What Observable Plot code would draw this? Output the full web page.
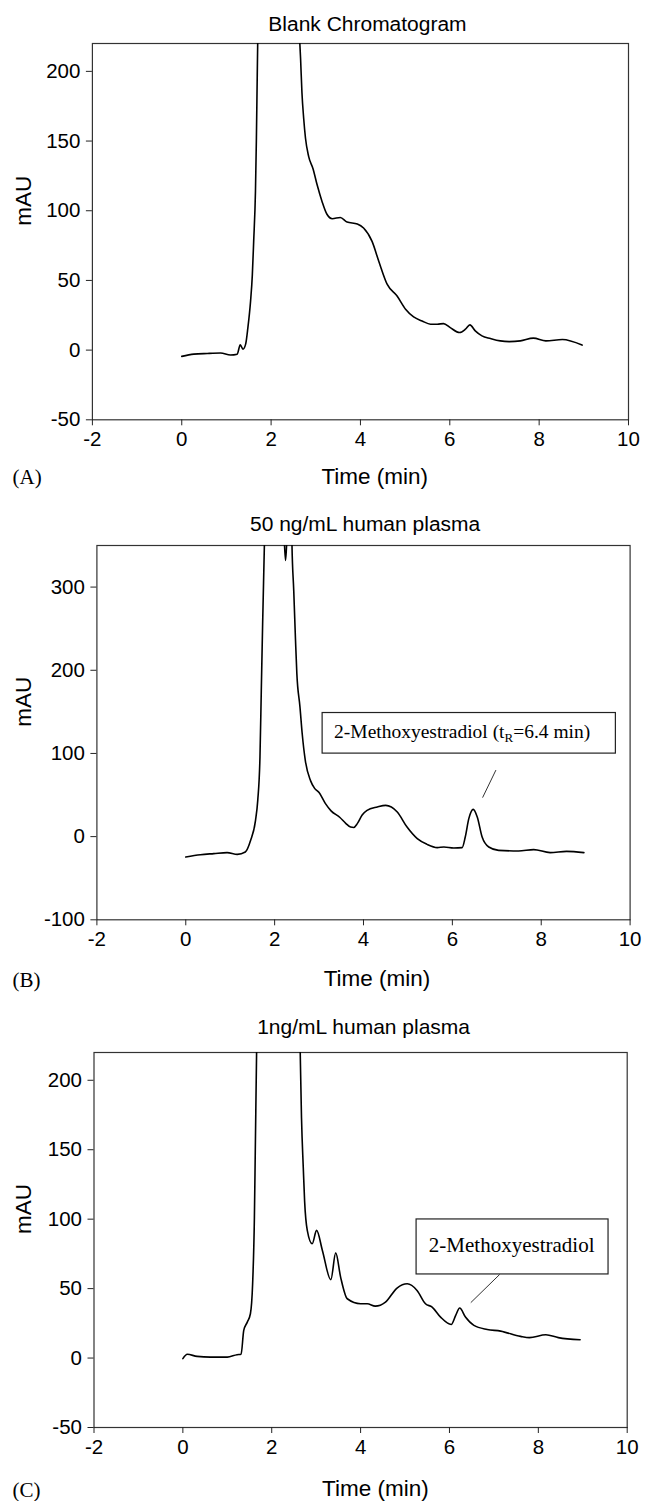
<!DOCTYPE html>
<html><head><meta charset="utf-8">
<script src="https://cdn.jsdelivr.net/npm/d3@7"></script>
<script src="https://cdn.jsdelivr.net/npm/@observablehq/plot@0.6"></script>
<style>
html,body{margin:0;padding:0;background:#fff;overflow:hidden;}
#root{position:relative;width:645px;height:1501px;}
.panel{position:absolute;left:0;}
</style></head><body><div id="root"></div>
<script>
// ---------- data ----------
const xTicks = [-2, 0, 2, 4, 6, 8, 10];
const blankTicks = [-50, 0, 50, 100, 150, 200];
const plasma50Ticks = [-100, 0, 100, 200, 300];
const plasma1Ticks = [-50, 0, 50, 100, 150, 200];
const titles = ["Blank Chromatogram", "50 ng/mL human plasma", "1ng/mL human plasma"];
const letters = ["(A)", "(B)", "(C)"];
const xLabel = "Time (min)";
const yLabel = "mAU";

const blankTime = [0, 0.27, 0.57, 0.87, 1.09, 1.24, 1.31, 1.37, 1.43, 1.48, 1.54, 1.58, 1.61, 1.65, 1.67, 1.69, 2.15, 2.64, 2.66, 2.69, 2.73, 2.77, 2.84, 2.94, 3.03, 3.14, 3.25, 3.37, 3.55, 3.70, 3.93, 4.07, 4.26, 4.41, 4.60, 4.82, 5.01, 5.19, 5.38, 5.57, 5.72, 5.86, 6.01, 6.22, 6.35, 6.45, 6.57, 6.72, 6.91, 7.13, 7.33, 7.58, 7.87, 8.15, 8.52, 8.96];
const blankMAU = [-4.5, -2.9, -2.4, -2.1, -3.5, -2.9, 3.8, 0.7, 4.3, 16, 35, 54, 78, 114, 150, 197, 900, 222, 209, 185, 166, 152, 139, 130, 118.6, 106.7, 97.5, 94.3, 95.2, 91.9, 90.5, 87.6, 78, 63.8, 47.1, 38.8, 29.3, 23.8, 20.9, 18.6, 18.6, 19, 16.1, 12.6, 15, 18.1, 13.8, 10.2, 8.3, 6.6, 6.1, 6.6, 8.6, 6.6, 7.6, 3.6];

const plasma50Time = [0, 0.33, 0.63, 0.93, 1.16, 1.34, 1.46, 1.57, 1.62, 1.67, 1.70, 1.73, 1.77, 2.0, 2.215, 2.245, 2.275, 2.33, 2.39, 2.43, 2.47, 2.50, 2.57, 2.62, 2.69, 2.81, 2.90, 3.00, 3.14, 3.27, 3.47, 3.60, 3.71, 3.78, 3.86, 3.97, 4.08, 4.31, 4.50, 4.76, 4.98, 5.21, 5.43, 5.66, 5.81, 6.03, 6.22, 6.29, 6.37, 6.47, 6.56, 6.67, 6.82, 7.04, 7.49, 7.83, 8.20, 8.57, 8.96];
const plasma50MAU = [-24.5, -21.7, -20.4, -19.2, -21.3, -18.5, -4.4, 19.6, 43.6, 95.7, 176, 256, 352, 1100, 360, 332, 360, 900, 352, 296, 236, 196, 156, 124, 91.7, 67, 58, 53, 40, 31, 23, 16, 11.5, 11, 15.6, 26, 31.6, 35.6, 37.6, 29.6, 11.5, -2.4, -9.3, -13.2, -12.5, -13.7, -13.2, -0.5, 21.6, 32.8, 23.6, -0.5, -12.5, -16.5, -17.3, -15.6, -19.2, -17.7, -19.2];

const plasma1Time = [0, 0.10, 0.32, 0.62, 1.0, 1.22, 1.31, 1.37, 1.45, 1.52, 1.57, 1.61, 1.63, 1.66, 2.15, 2.64, 2.67, 2.71, 2.74, 2.80, 2.91, 3.01, 3.14, 3.33, 3.44, 3.55, 3.70, 4.0, 4.15, 4.33, 4.56, 4.82, 5.05, 5.27, 5.46, 5.61, 5.80, 6.04, 6.14, 6.23, 6.36, 6.55, 6.85, 7.15, 7.60, 7.80, 8.17, 8.45, 8.94];
const plasma1MAU = [-0.4, 2.7, 1.2, 0.7, 0.7, 2.4, 2.7, 19.9, 25.9, 31.9, 53.5, 101.4, 149.4, 222, 900, 222, 173, 137, 113, 91.9, 82.3, 91.9, 77.5, 56.4, 75.7, 58.3, 42.7, 39.1, 39.1, 37.4, 40.3, 50.4, 53.5, 48.7, 39.1, 36.7, 29.5, 24.2, 30.7, 36, 29.5, 23.5, 20.6, 19.4, 15.6, 14.7, 16.8, 14.7, 13.2];

// annotations (data units)
const annotation50 = {label: "2-Methoxyestradiol (tR=6.4 min)", x1: 3.08, x2: 9.68, y1: 99.8, y2: 148.6, tx: 6.22, ty: 125.7, lx1: 6.98, ly1: 80, lx2: 6.68, ly2: 46.9};
const annotation1 = {label: "2-Methoxyestradiol", x1: 5.26, x2: 9.58, y1: 60.2, y2: 99.8, tx: 7.40, ty: 81.5, lx1: 7.13, ly1: 60.2, lx2: 6.48, ly2: 39.9};

// ---------- layout ----------
const SANS = "'Liberation Sans', Arial, Helvetica, sans-serif";
const SERIF = "'Liberation Serif', 'Times New Roman', serif";
const panels = [
  {time: blankTime, values: blankMAU, ticks: blankTicks, domain: [-50, 220], title: titles[0], letter: letters[0],
   top: 42.7, bottom: 419, left: 91.9, right: 628, mb: 75, titleDx: 7, titleDy: -19.4, xlDx: 14.3, xlDy: 57, letDy: 57, ann: null},
  {time: plasma50Time, values: plasma50MAU, ticks: plasma50Ticks, domain: [-100, 350], title: titles[1], letter: letters[1],
   top: 545, bottom: 919.3, left: 96.4, right: 629.6, mb: 75, titleDx: 1.6, titleDy: -21.7, xlDx: 13.5, xlDy: 58.7, letDy: 60.7, ann: annotation50, annSize: 19.5},
  {time: plasma1Time, values: plasma1MAU, ticks: plasma1Ticks, domain: [-50, 220], title: titles[2], letter: letters[2],
   top: 1052.3, bottom: 1427.3, left: 93.5, right: 626.7, mb: 72, titleDx: 3, titleDy: -25.6, xlDx: 14.8, xlDy: 61.7, letDy: 62.7, ann: annotation1, annSize: 21}
];

const root = document.getElementById("root");
const MT = 40;
for (const p of panels) {
  const data = p.time.map((t, i) => ({t, v: p.values[i]}));
  const h = MT + (p.bottom - p.top) + p.mb;
  const marks = [
    Plot.frame({stroke: "#333", strokeWidth: 1.2}),
    Plot.axisX({ticks: xTicks, tickSize: 6, tickPadding: 6, tickFormat: d => String(d), label: null, fontSize: 20.5, stroke: "#222", fill: "#000"}),
    Plot.axisY({ticks: p.ticks, tickSize: 6, tickPadding: 6, tickFormat: d => String(d), label: null, fontSize: 20.5, stroke: "#222", fill: "#000"}),
    Plot.line(data, {x: "t", y: "v", stroke: "#000", strokeWidth: 1.6, curve: "monotone-x", clip: true, strokeLinejoin: "round"}),
    Plot.text([p.title], {text: d => d, frameAnchor: "top", dx: p.titleDx, dy: p.titleDy, lineAnchor: "middle", fontSize: 21, fill: "#000"}),
    Plot.text([xLabel], {text: d => d, frameAnchor: "bottom", dx: p.xlDx, dy: p.xlDy, lineAnchor: "middle", fontSize: 22.5, fill: "#000"}),
    Plot.text([yLabel], {text: d => d, frameAnchor: "left", rotate: -90, dx: 23.6 - p.left, dy: -6, lineAnchor: "middle", fontSize: 22.5, fill: "#000"}),
    Plot.text([p.letter], {text: d => d, frameAnchor: "bottom-left", textAnchor: "start", dx: 12 - p.left, dy: p.letDy, lineAnchor: "middle", fontSize: 21, fontFamily: SERIF, fill: "#000"})
  ];
  if (p.ann) {
    const a = p.ann;
    marks.push(
      Plot.link([a], {x1: "lx1", y1: "ly1", x2: "lx2", y2: "ly2", stroke: "#333", strokeWidth: 1}),
      Plot.rect([a], {x1: "x1", x2: "x2", y1: "y1", y2: "y2", fill: "white", stroke: "#222", strokeWidth: 1.2}),
      Plot.text([a], {x: "tx", y: "ty", text: "label", fontFamily: SERIF, fontSize: p.annSize, lineAnchor: "middle", fill: "#000"})
    );
  }
  const chart = Plot.plot({
    width: 645, height: h,
    marginTop: MT, marginBottom: p.mb, marginLeft: p.left, marginRight: 645 - p.right,
    x: {domain: [-2, 10]},
    y: {domain: p.domain},
    style: {fontFamily: SANS, background: "white", color: "#000", overflow: "visible"},
    marks
  });
  const div = document.createElement("div");
  div.className = "panel";
  div.style.top = (p.top - MT) + "px";
  div.appendChild(chart);
  root.appendChild(div);
  // subscript R in t_R
  d3.select(chart).selectAll("text").each(function() {
    const el = d3.select(this);
    const s = el.text();
    if (s.includes("(tR=")) {
      const [pre, post] = s.split("tR");
      el.text(null);
      el.append("tspan").text(pre + "t");
      el.append("tspan").attr("font-size", "13px").attr("dy", "4").text("R");
      el.append("tspan").attr("dy", "-4").text(post);
    }
  });
}
</script></body></html>
